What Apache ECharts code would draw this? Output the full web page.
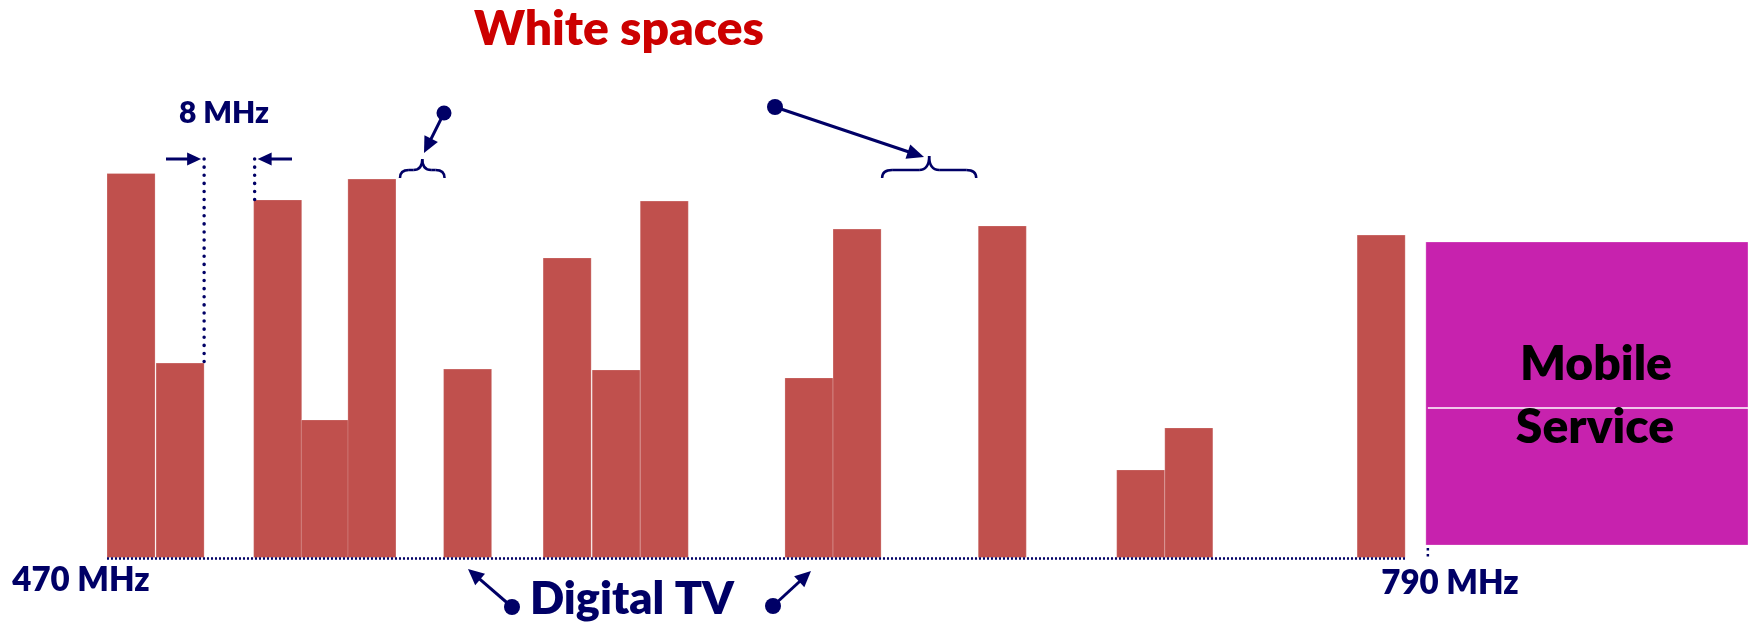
<!DOCTYPE html>
<html>
<head>
<meta charset="utf-8">
<script src="https://cdn.jsdelivr.net/npm/echarts@6/dist/echarts.min.js"></script>
<style>
html,body{margin:0;padding:0;background:#fff;}
#chart{width:1748px;height:629px;}
</style>
</head>
<body>
<div id="chart"></div>
<script>
// ---- data ----
const channelStarts = [0, 1.02, 3.05, 4.04, 5.01, 7.0, 9.07, 10.09, 11.09, 14.1, 15.1, 18.12, 21.0, 22.0, 26.0];
const signalLevels = [96, 48.6, 89.4, 34.4, 94.6, 47.1, 74.9, 46.9, 89.1, 44.9, 82.1, 82.9, 21.9, 32.4, 80.6];
const channelWidth = 1;
const mobileBand = [27.43, 34.13];
const mobileLevels = [3.1, 78.9];
const bandLabels = ['470 MHz', '790 MHz'];
const titleText = 'White spaces';
const widthLabel = '8 MHz';
const tvLabel = 'Digital TV';
const mobileLabel = ['Mobile', 'Service'];

const NAVY = '#000066';
const FONT = 'Lato, "Open Sans", sans-serif';

const chart = echarts.init(document.getElementById('chart'), null, {renderer: 'canvas'});

const barData = channelStarts.map((s, i) => [s, signalLevels[i]]);

const option = {
  animation: false,
  backgroundColor: '#ffffff',
  grid: {left: 107, right: 0, top: 157.5, bottom: 71.5},
  xAxis: {type: 'value', min: 0, max: 34.13, show: false},
  yAxis: {type: 'value', min: 0, max: 100, show: false},
  series: [
    {
      type: 'custom',
      name: 'Digital TV',
      clip: false,
      z: 2,
      data: barData,
      encode: {x: 0, y: 1},
      renderItem: function (params, api) {
        const x = api.value(0), v = api.value(1);
        const p0 = api.coord([x, 0]);
        const p1 = api.coord([x + channelWidth, v]);
        return {
          type: 'rect',
          shape: {x: p0[0], y: p1[1], width: p1[0] - p0[0], height: p0[1] - p1[1]},
          style: {fill: '#C0504D', stroke: 'rgba(255,255,255,0.22)', lineWidth: 1}
        };
      }
    },
    {
      type: 'custom',
      name: 'Mobile Service',
      clip: false,
      z: 2,
      data: [[mobileBand[0], mobileBand[1], mobileLevels[0], mobileLevels[1]]],
      encode: {x: [0, 1], y: [2, 3]},
      renderItem: function (params, api) {
        const a = api.coord([api.value(0), api.value(3)]);
        const b = api.coord([api.value(1), api.value(2)]);
        const h = b[1] - a[1];
        const midY = a[1] + h * 0.548;
        return {
          type: 'group',
          children: [
            {type: 'rect', shape: {x: a[0], y: a[1], width: b[0] - a[0], height: h},
             style: {fill: '#C722AE', stroke: 'rgba(255,255,255,0.3)', lineWidth: 1}},
            {type: 'line', shape: {x1: a[0] + 2, y1: midY, x2: b[0], y2: midY},
             style: {stroke: '#ffffff', lineWidth: 1.5}}
          ]
        };
      }
    }
  ]
};
chart.setOption(option);

function px(x, y) { return chart.convertToPixel({gridIndex: 0}, [x, y]); }

function arrow(x1, y1, x2, y2, opts) {
  opts = opts || {};
  const hl = opts.headLen || 15, hw = opts.headW || 14, lw = opts.lw || 3;
  const dx = x2 - x1, dy = y2 - y1, len = Math.sqrt(dx * dx + dy * dy);
  const ux = dx / len, uy = dy / len;
  const bx = x2 - ux * hl, by = y2 - uy * hl;
  const nx = -uy, ny = ux;
  const els = [
    {type: 'line', shape: {x1: x1, y1: y1, x2: bx + ux * 2, y2: by + uy * 2},
     style: {stroke: NAVY, lineWidth: lw}},
    {type: 'polygon', shape: {points: [[x2, y2], [bx + nx * hw / 2, by + ny * hw / 2], [bx - nx * hw / 2, by - ny * hw / 2]]},
     style: {fill: NAVY}}
  ];
  if (opts.dot) {
    els.push({type: 'circle', shape: {cx: x1, cy: y1, r: opts.dot}, style: {fill: NAVY}});
  }
  return els;
}

function brace(x0, x1, yTip, yMid, yEnd) {
  const xm = (x0 + x1) / 2, r = Math.min(10, (x1 - x0) / 5);
  const st = {stroke: NAVY, lineWidth: 2.5, fill: null};
  return [
    {type: 'bezierCurve', shape: {x1: x0, y1: yEnd, cpx1: x0, cpy1: yMid, x2: x0 + r, y2: yMid}, style: st},
    {type: 'line', shape: {x1: x0 + r, y1: yMid, x2: xm - r, y2: yMid}, style: st},
    {type: 'bezierCurve', shape: {x1: xm - r, y1: yMid, cpx1: xm, cpy1: yMid, x2: xm, y2: yTip}, style: st},
    {type: 'bezierCurve', shape: {x1: xm, y1: yTip, cpx1: xm, cpy1: yMid, x2: xm + r, y2: yMid}, style: st},
    {type: 'line', shape: {x1: xm + r, y1: yMid, x2: x1 - r, y2: yMid}, style: st},
    {type: 'bezierCurve', shape: {x1: x1 - r, y1: yMid, cpx1: x1, cpy1: yMid, x2: x1, y2: yEnd}, style: st}
  ];
}

function txt(x, y, text, size, color) {
  return {type: 'text', x: x, y: y,
    style: {text: text, fill: color, font: '800 ' + size + 'px ' + FONT, align: 'center', verticalAlign: 'middle'}};
}

const base0 = px(0, 0), base1 = px(27, 0);
const bar2Edge = px(channelStarts[1] + channelWidth, signalLevels[1]);
const bar3Edge = px(channelStarts[2], signalLevels[2]);
const gapA0 = px(channelStarts[4] + channelWidth, 0)[0], gapA1 = px(channelStarts[5], 0)[0];
const gapB0 = px(channelStarts[10] + channelWidth, 0)[0], gapB1 = px(channelStarts[11], 0)[0];
const mob0 = px(mobileBand[0], mobileLevels[0]);

let g = [];
// baseline (dotted)
g.push({type: 'line', shape: {x1: base0[0], y1: base0[1] + 1, x2: base1[0], y2: base1[1] + 1},
  style: {stroke: NAVY, lineWidth: 2.5, lineDash: [2, 2]}});
// small dotted tick at mobile band start
g.push({type: 'line', shape: {x1: mob0[0] + 2, y1: mob0[1] + 3, x2: mob0[0] + 2, y2: base0[1] - 1},
  style: {stroke: NAVY, lineWidth: 2.5, lineDash: [2.5, 3.5]}});
// 8 MHz dotted verticals
g.push({type: 'line', shape: {x1: bar2Edge[0], y1: 159, x2: bar2Edge[0], y2: bar2Edge[1]},
  style: {stroke: NAVY, lineWidth: 3.5, lineDash: [0.1, 8], lineCap: 'round'}});
g.push({type: 'line', shape: {x1: bar3Edge[0] + 1, y1: 159, x2: bar3Edge[0] + 1, y2: bar3Edge[1]},
  style: {stroke: NAVY, lineWidth: 3.5, lineDash: [0.1, 8], lineCap: 'round'}});
// 8 MHz arrows
g = g.concat(arrow(166, 159, bar2Edge[0] - 3, 159, {headLen: 14, headW: 13, lw: 3}));
g = g.concat(arrow(292, 159, bar3Edge[0] + 4, 159, {headLen: 14, headW: 13, lw: 3}));
// white-space braces
g = g.concat(brace(gapA0 + 4, gapA1 + 1, 159, 170, 178));
g = g.concat(brace(gapB0 + 1, gapB1 - 2, 156, 170, 178));
// white-space pointer arrows
g = g.concat(arrow(444, 113, 424, 153, {headLen: 16, headW: 15, lw: 3, dot: 7.5}));
g = g.concat(arrow(775, 107, 924, 157, {headLen: 17, headW: 15, lw: 3, dot: 8}));
// Digital TV pointer arrows
g = g.concat(arrow(512, 607, 468, 569, {headLen: 16, headW: 15, lw: 3, dot: 8}));
g = g.concat(arrow(773, 606, 811, 571, {headLen: 16, headW: 15, lw: 3, dot: 8}));
// texts
g.push(txt(619, 30, titleText, 48, '#CC0000'));
g.push(txt(224, 113, widthLabel, 30, NAVY));
g.push(txt(632, 599, tvLabel, 45, NAVY));
g.push(txt(81, 580, bandLabels[0], 33, NAVY));
g.push(txt(1450, 583, bandLabels[1], 33, NAVY));
g.push(txt(1596, 365, mobileLabel[0], 48, '#000000'));
g.push(txt(1595, 428, mobileLabel[1], 48, '#000000'));

g.forEach(e => { e.z = 100; });

chart.setOption({graphic: {elements: g}});
</script>
</body>
</html>
